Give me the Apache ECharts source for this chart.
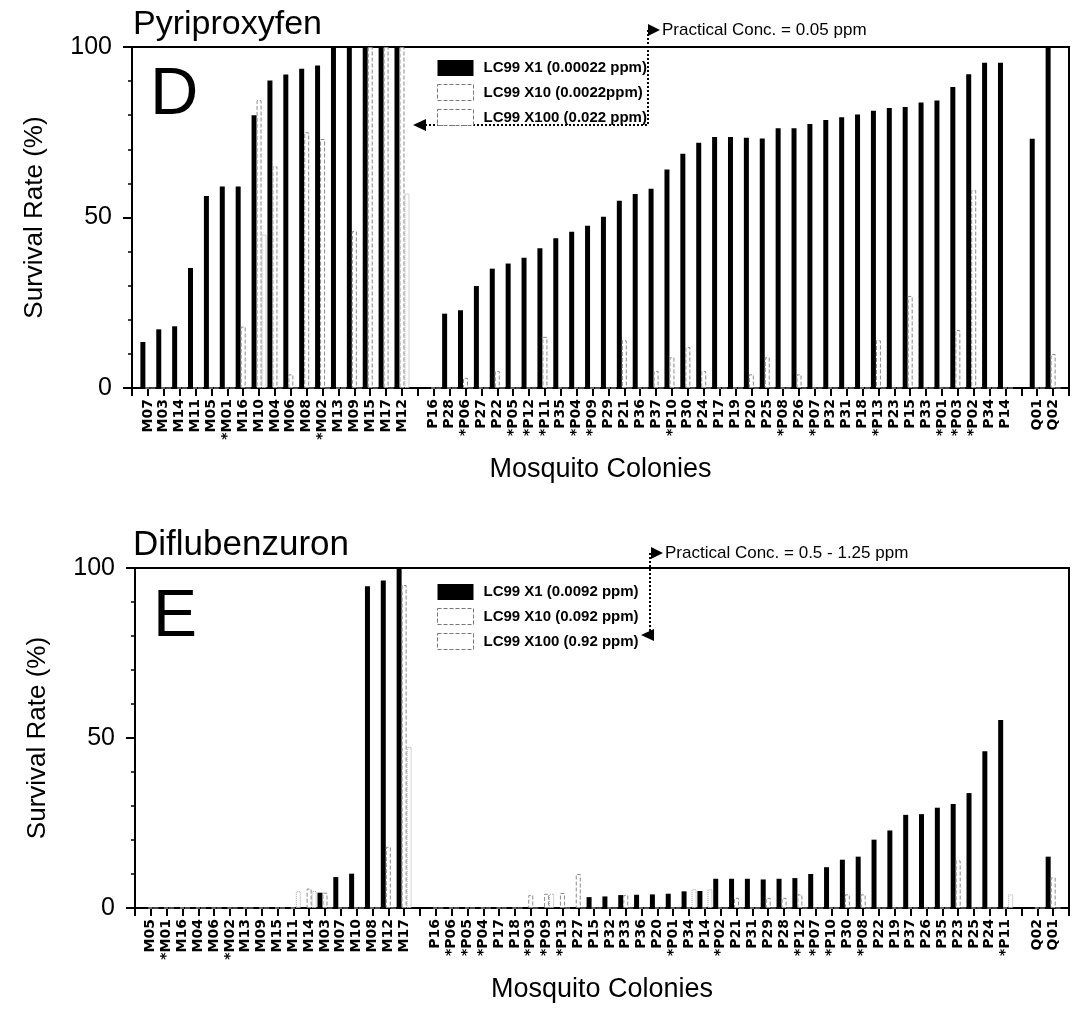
<!DOCTYPE html>
<html>
<head>
<meta charset="utf-8">
<script src="https://cdn.jsdelivr.net/npm/echarts@6/dist/echarts.min.js"></script>
<style>
  html, body { margin: 0; padding: 0; background: #fff; }
  #chart { width: 1076px; height: 1011px; }
</style>
</head>
<body>
<div id="chart"></div>
<script>
// Panel D - Pyriproxyfen (blank entries are empty slots on the axis)
const catsD = ['', 'M07', 'M03', 'M14', 'M11', 'M05', '*M01', 'M16', 'M10', 'M04', 'M06', 'M08', '*M02', 'M13', 'M09', 'M15', 'M17', 'M12', ' ',
  'P16', 'P28', '*P06', 'P27', 'P22', '*P05', '*P12', '*P11', 'P35', '*P04', '*P09', 'P29', 'P21', 'P36', 'P37', '*P10', 'P30', 'P24', 'P17',
  'P19', 'P20', 'P25', '*P08', 'P26', '*P07', 'P32', 'P31', 'P18', '*P13', 'P23', 'P15', 'P33', '*P01', '*P03', '*P02', 'P34', 'P14', '  ',
  'Q01', 'Q02', '   ']
const x1D = [null, 13.5, 17.2, 18.1, 35.2, 56.3, 59.1, 59.1, 80.0, 90.2, 91.9, 93.6, 94.6, 100, 100, 100, 100, 100, null,
  0, 21.8, 22.8, 29.9, 35.0, 36.5, 38.2, 41.0, 43.9, 45.8, 47.6, 50.2, 54.9, 56.9, 58.4, 64.1, 68.7, 71.9, 73.6,
  73.6, 73.4, 73.2, 76.2, 76.2, 77.4, 78.6, 79.4, 80.2, 81.3, 82.1, 82.4, 83.7, 84.3, 88.3, 92.0, 95.4, 95.4, null,
  73.1, 100, null]
const x10D = [null, 0, 0, 0, 0, 0, 0, 18, 84.4, 65, 4, 75, 73, 0, 46, 100, 100, 100, null,
  0, 0, 3, 0, 5, 0, 0, 15, 0, 0, 0, 0, 14, 0, 5, 9, 12, 5, 0,
  0, 4, 9, 0, 4, 0, 0, 0, 0, 14, 0, 27, 0, 0, 17, 58, 0, 0, null,
  0, 10, null]
const x100D = [null, 0, 0, 0, 0, 0, 0, 0, 45, 0, 0, 0, 0, 0, 0, 0, 0, 57, null,
  0, 0, 0, 0, 0, 0, 0, 0, 0, 0, 0, 0, 0, 0, 0, 0, 0, 0, 0,
  0, 0, 0, 0, 0, 0, 0, 0, 0, 0, 0, 0, 0, 0, 0, 0, 0, 0, null,
  0, 0, null]
const namesD = ['LC99 X1 (0.00022 ppm)', 'LC99 X10 (0.0022ppm)', 'LC99 X100 (0.022 ppm)']

// Panel E - Diflubenzuron
const catsE = ['', 'M05', '*M01', 'M16', 'M04', 'M06', '*M02', 'M13', 'M09', 'M15', 'M11', 'M14', 'M03', 'M07', 'M10', 'M08', 'M12', 'M17', ' ',
  'P16', '*P06', '*P05', '*P04', 'P17', 'P18', '*P03', '*P09', '*P13', 'P27', 'P15', 'P32', 'P33', 'P36', 'P20', '*P01', 'P34', 'P14', '*P02',
  'P21', 'P31', 'P29', 'P28', '*P12', '*P07', '*P10', 'P30', '*P08', 'P22', 'P19', 'P37', 'P26', 'P35', 'P23', 'P25', 'P24', '*P11', '  ',
  'Q02', 'Q01', '   ']
const x1E = [null, 0, 0, 0, 0, 0, 0, 0, 0, 0, 0, 0, 4.5, 9.1, 10.1, 94.6, 96.3, 100, null,
  0, 0, 0, 0, 0, 0, 0, 0, 0, 0, 3.2, 3.4, 3.8, 3.9, 4.0, 4.2, 4.9, 5.0, 8.6,
  8.6, 8.6, 8.4, 8.6, 8.8, 10.0, 12.0, 14.2, 15.1, 20.1, 22.8, 27.4, 27.6, 29.5, 30.6, 33.8, 46.1, 55.3, null,
  0, 15.1, null]
const x10E = [null, 0, 0, 0, 0, 0, 0, 0, 0, 0, 0, 5.7, 4.5, 0, 0, 0, 18, 95, null,
  0, 0, 0, 0, 0, 0, 3.8, 4.2, 4.4, 10, 0, 0, 3.8, 0, 0, 0, 0, 0, 0,
  3, 0, 3, 3, 4, 0, 0, 4, 4, 0, 0, 0, 0, 0, 14, 0, 0, 0, null,
  0, 9, null]
const x100E = [null, 0, 0, 0, 0, 0, 0, 0, 0, 0, 4.9, 5, 0, 0, 0, 0, 0, 47.4, null,
  0, 0, 0, 0, 0, 0, 0, 4.2, 0, 0, 0, 0, 0, 0, 0, 0, 5.5, 5.5, 0,
  0, 0, 0, 0, 0, 0, 0, 0, 0, 0, 0, 0, 0, 0, 0, 0, 0, 4, null,
  0, 0, null]
const namesE = ['LC99 X1 (0.0092 ppm)', 'LC99 X10 (0.092 ppm)', 'LC99 X100 (0.92 ppm)']

const yTicks = [0, 50, 100]

const FONT = 'Liberation Sans, Arial, sans-serif'
const chart = echarts.init(document.getElementById('chart'))

const xAxisFor = (gridIndex, cats) => ({
  type: 'category',
  gridIndex,
  data: cats,
  boundaryGap: false,
  axisLine: { lineStyle: { color: '#000', width: 2 } },
  axisTick: { interval: 0, length: 8, lineStyle: { color: '#000', width: 2 } },
  axisLabel: {
    interval: 0, rotate: 90, margin: 11, color: '#000',
    fontFamily: 'DejaVu Sans', fontWeight: 'bold', fontSize: 14,
  },
  name: 'Mosquito Colonies',
  nameLocation: 'middle',
  nameGap: 68,
  nameTextStyle: { fontFamily: FONT, fontSize: 27, color: '#000' },
})

const yAxisFor = (gridIndex) => ({
  type: 'value',
  gridIndex,
  min: yTicks[0],
  max: yTicks[yTicks.length - 1],
  interval: yTicks[1] - yTicks[0],
  axisLine: { show: true, lineStyle: { color: '#000', width: 2 } },
  axisTick: { show: true, length: 9, lineStyle: { color: '#000', width: 2 } },
  minorTick: { show: true, splitNumber: 5, length: 4, lineStyle: { color: '#000', width: 1.5 } },
  splitLine: { show: false },
  axisLabel: { margin: 20, fontFamily: FONT, fontSize: 25, color: '#000' },
  name: 'Survival Rate (%)',
  nameLocation: 'middle',
  nameGap: 84,
  nameTextStyle: { fontFamily: FONT, fontSize: 26, color: '#000' },
})

const barStyles = [
  { color: '#000' },
  { color: '#fff', borderColor: '#8a8a8a', borderWidth: 1, borderType: 'dashed' },
  { color: '#fff', borderColor: '#a5a5a5', borderWidth: 1, borderType: 'dotted' },
]

const seriesFor = (axisIndex, names, lists) => lists.map((data, i) => ({
  name: names[i],
  type: 'bar',
  xAxisIndex: axisIndex,
  yAxisIndex: axisIndex,
  data,
  barWidth: 5,
  barGap: '0%',
  itemStyle: barStyles[i],
  emphasis: { disabled: true },
}))

const legendFor = (names, top) => ({
  data: names.map((name, i) => ({
    name,
    itemStyle: i === 0 ? { color: '#000' } : { color: '#fff', borderColor: '#777', borderWidth: 1, borderType: 'dashed' },
  })),
  orient: 'vertical',
  left: 432,
  top,
  itemWidth: 36,
  itemHeight: 16,
  itemGap: 8,
  icon: 'rect',
  selectedMode: false,
  textStyle: { fontFamily: FONT, fontWeight: 'bold', fontSize: 15, color: '#000', padding: [0, 0, 0, 5] },
})

const dotted = { stroke: '#000', lineWidth: 2, lineDash: [2, 2], fill: null }

chart.setOption({
  animation: false,
  backgroundColor: '#fff',
  title: [
    { text: 'Pyriproxyfen', left: 133, top: 8, padding: 0, textStyle: { fontFamily: FONT, fontSize: 34, fontWeight: 'normal', color: '#000' } },
    { text: 'D', left: 150, top: 62, padding: 0, textStyle: { fontFamily: FONT, fontSize: 67, fontWeight: 'normal', color: '#000' } },
    { text: 'Diflubenzuron', left: 133, top: 528, padding: 0, textStyle: { fontFamily: FONT, fontSize: 35, fontWeight: 'normal', color: '#000' } },
    { text: 'E', left: 153, top: 585, padding: 0, textStyle: { fontFamily: FONT, fontSize: 66, fontWeight: 'normal', color: '#000' } },
  ],
  grid: [
    { left: 132, top: 47, width: 940, height: 341, show: true, borderColor: '#000', borderWidth: 2 },
    { left: 135, top: 568, width: 941, height: 340, show: true, borderColor: '#000', borderWidth: 2 },
  ],
  xAxis: [xAxisFor(0, catsD), xAxisFor(1, catsE)],
  yAxis: [yAxisFor(0), yAxisFor(1)],
  legend: [legendFor(namesD, 55), legendFor(namesE, 579)],
  series: [
    ...seriesFor(0, namesD, [x1D, x10D, x100D]),
    ...seriesFor(1, namesE, [x1E, x10E, x100E]),
  ],
  graphic: [
    // panel D practical concentration marker
    { type: 'polyline', shape: { points: [[648, 30], [648, 125], [424, 125]] }, style: dotted },
    { type: 'polygon', shape: { points: [[413, 125], [426, 119], [426, 131]] }, style: { fill: '#000' } },
    { type: 'polygon', shape: { points: [[660, 30], [648, 24], [648, 36]] }, style: { fill: '#000' } },
    { type: 'text', x: 662, y: 30, style: { text: 'Practical Conc. = 0.05 ppm', fontFamily: FONT, fontSize: 17, fill: '#000', verticalAlign: 'middle' } },
    // panel E practical concentration marker
    { type: 'polyline', shape: { points: [[650, 553], [650, 635]] }, style: dotted },
    { type: 'polygon', shape: { points: [[641, 635], [654, 629], [654, 641]] }, style: { fill: '#000' } },
    { type: 'polygon', shape: { points: [[663, 553], [651, 547], [651, 559]] }, style: { fill: '#000' } },
    { type: 'text', x: 665, y: 553, style: { text: 'Practical Conc. = 0.5 - 1.25 ppm', fontFamily: FONT, fontSize: 17, fill: '#000', verticalAlign: 'middle' } },
  ],
})

window.addEventListener('resize', () => {
  chart.resize()
})
</script>
</body>
</html>
